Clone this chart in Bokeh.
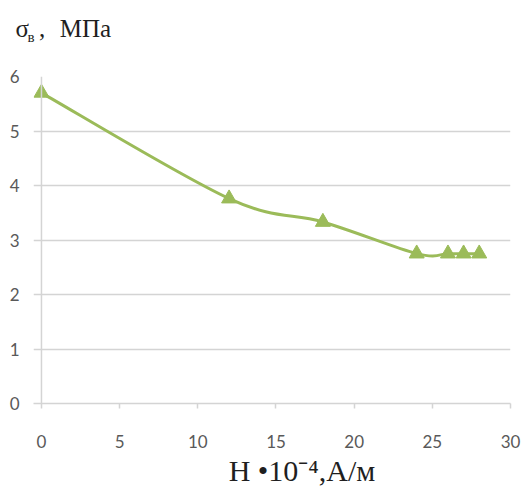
from bokeh.plotting import figure
from bokeh.models import Range1d, Span, Label, FixedTicker, ColumnDataSource
from bokeh.embed import file_html
from bokeh.resources import INLINE

# Data
h_vals = [0, 12, 18, 24, 26, 27, 28]
sigma_vals = [5.7, 3.76, 3.33, 2.75, 2.75, 2.75, 2.75]
x_ticks = [0, 5, 10, 15, 20, 25, 30]
y_ticks = [0, 1, 2, 3, 4, 5, 6]
x_title = "\u2003\u2003H •10\u207b\u2074,А/м"
y_title_main = "σ\u2009\u2009,\u2002\u200aМПа"
y_title_sub = "в"

GREEN = "#9BBB59"
GRID = "#D4D4D4"
TXT = "#595959"
SERIF = "Liberation Serif"

p = figure(width=526, height=489, output_backend="svg", toolbar_location=None,
           x_range=Range1d(-0.51, 30), y_range=Range1d(0, 6),
           min_border_left=33, min_border_right=16, min_border_top=76, min_border_bottom=85)
p.outline_line_color = None
p.background_fill_color = "white"

p.xgrid.grid_line_color = None
p.ygrid.grid_line_color = GRID
p.ygrid.grid_line_width = 1.5
p.ygrid.ticker = FixedTicker(ticks=y_ticks)

p.yaxis.ticker = FixedTicker(ticks=y_ticks)
p.yaxis.axis_line_color = None
p.yaxis.major_tick_line_color = None
p.yaxis.major_tick_out = 0
p.yaxis.major_tick_in = 0
p.yaxis.minor_tick_line_color = None
p.yaxis.minor_tick_out = 0
p.yaxis.major_label_standoff = 14
p.yaxis.major_label_text_font = "Lato"
p.yaxis.major_label_text_font_size = "17px"
p.yaxis.major_label_text_color = TXT

p.xaxis.ticker = FixedTicker(ticks=x_ticks)
p.xaxis.axis_line_color = GRID
p.xaxis.axis_line_width = 1.5
p.xaxis.major_tick_line_color = GRID
p.xaxis.major_tick_line_width = 1.5
p.xaxis.major_tick_out = 5
p.xaxis.major_tick_in = 0
p.xaxis.minor_tick_line_color = None
p.xaxis.major_label_standoff = 26
p.xaxis.major_label_text_font = "Lato"
p.xaxis.major_label_text_font_size = "17px"
p.xaxis.major_label_text_color = TXT
p.xaxis.axis_label = x_title
p.xaxis.axis_label_text_font = SERIF
p.xaxis.axis_label_text_font_style = "normal"
p.xaxis.axis_label_text_font_size = "30px"
p.xaxis.axis_label_text_color = "#1F1F1F"
p.xaxis.axis_label_standoff = 3

p.add_layout(Span(location=0, dimension="height", line_color=GRID, line_width=1.5))

# smoothed line (Catmull-Rom style bezier, like Excel smoothing)
n = len(h_vals)
x0s, y0s, x1s, y1s, cx0, cy0, cx1, cy1 = [], [], [], [], [], [], [], []
for i in range(n - 1):
    xp, yp = (h_vals[i - 1], sigma_vals[i - 1]) if i > 0 else (h_vals[i], sigma_vals[i])
    xa, ya = h_vals[i], sigma_vals[i]
    xb, yb = h_vals[i + 1], sigma_vals[i + 1]
    xn, yn = (h_vals[i + 2], sigma_vals[i + 2]) if i + 2 < n else (xb, yb)
    x0s.append(xa); y0s.append(ya); x1s.append(xb); y1s.append(yb)
    cx0.append(xa + (xb - xp) / 6); cy0.append(ya + (yb - yp) / 6)
    cx1.append(xb - (xn - xa) / 6); cy1.append(yb - (yn - ya) / 6)
bsrc = ColumnDataSource(dict(x0=x0s, y0=y0s, x1=x1s, y1=y1s, cx0=cx0, cy0=cy0, cx1=cx1, cy1=cy1))
p.bezier(x0="x0", y0="y0", x1="x1", y1="y1", cx0="cx0", cy0="cy0", cx1="cx1", cy1="cy1",
         source=bsrc, line_color=GREEN, line_width=3)
p.scatter(h_vals, sigma_vals, marker="triangle", size=15, fill_color=GREEN, line_color=GREEN)

lab = dict(text_font=SERIF, text_color="#1F1F1F", text_baseline="alphabetic",
           x_units="screen", y_units="screen")
# y title in the panel above the frame
p.add_layout(Label(x=-18, y=48, text=y_title_main, text_font_size="25px", **lab), "above")
p.add_layout(Label(x=-6, y=13, text=y_title_sub, text_font_size="15px", **lab), "above")

open("out.html", "w").write(file_html(p, INLINE))
